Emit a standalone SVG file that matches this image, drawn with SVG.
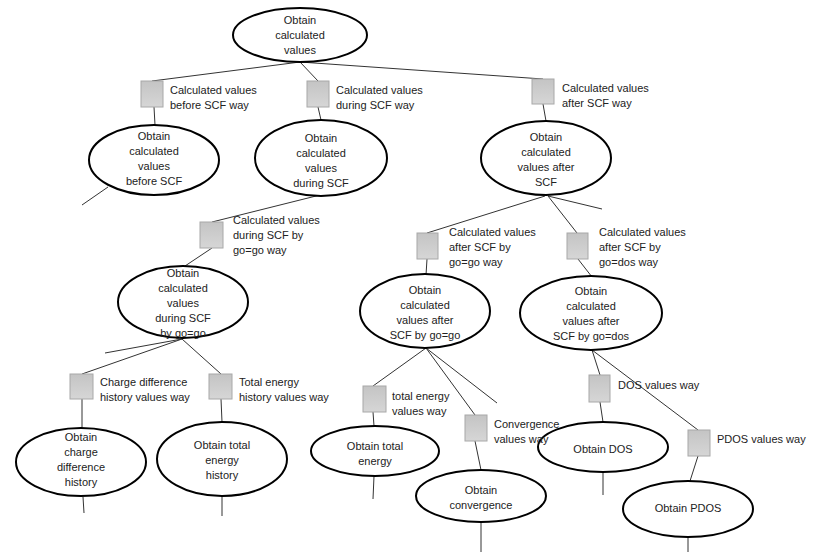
<svg xmlns="http://www.w3.org/2000/svg" width="817" height="557" viewBox="0 0 817 557">
<defs>
<linearGradient id="g" x1="0" y1="0" x2="0" y2="1"><stop offset="0" stop-color="#c4c4c4"/><stop offset="1" stop-color="#d6d6d6"/></linearGradient>
<style>
.n{fill:#fff;stroke:#000;stroke-width:2}
.s{fill:url(#g);stroke:#a8a8a8;stroke-width:1}
.c line{stroke:#333;stroke-width:1}
text{font-family:"Liberation Sans",Arial,sans-serif;font-size:11px;fill:#222}
.m{text-anchor:middle}
</style>
</defs>
<rect width="817" height="557" fill="#fff"/>
<g class="c" id="connectors">
<line x1="300" y1="62" x2="152" y2="81"/>
<line x1="300" y1="62" x2="318" y2="81"/>
<line x1="300" y1="62" x2="543" y2="79"/>
<line x1="154" y1="107" x2="155" y2="125"/>
<line x1="318" y1="107" x2="321" y2="120"/>
<line x1="543" y1="104" x2="546" y2="121"/>
<line x1="108" y1="187" x2="82" y2="205"/>
<line x1="320" y1="195" x2="212" y2="222"/>
<line x1="212" y1="248" x2="185" y2="266"/>
<line x1="182" y1="339" x2="105" y2="353"/>
<line x1="182" y1="339" x2="82" y2="374"/>
<line x1="182" y1="339" x2="221" y2="374"/>
<line x1="82" y1="399" x2="82" y2="428"/>
<line x1="221" y1="399" x2="222" y2="422"/>
<line x1="83" y1="497" x2="84" y2="513"/>
<line x1="222" y1="497" x2="222" y2="516"/>
<line x1="545" y1="196" x2="427" y2="233"/>
<line x1="548" y1="196" x2="577" y2="233"/>
<line x1="548" y1="196" x2="602" y2="209"/>
<line x1="427" y1="259" x2="426" y2="275"/>
<line x1="578" y1="259" x2="592" y2="277"/>
<line x1="426" y1="348" x2="373" y2="386"/>
<line x1="426" y1="348" x2="475" y2="415"/>
<line x1="426" y1="348" x2="497" y2="403"/>
<line x1="373" y1="412" x2="374" y2="426"/>
<line x1="374" y1="476" x2="373" y2="499"/>
<line x1="475" y1="441" x2="481" y2="470"/>
<line x1="481" y1="522" x2="481" y2="552"/>
<line x1="592" y1="350" x2="600" y2="375"/>
<line x1="592" y1="350" x2="698" y2="430"/>
<line x1="600" y1="402" x2="603" y2="422"/>
<line x1="603" y1="472" x2="603" y2="495"/>
<line x1="698" y1="456" x2="690" y2="481"/>
<line x1="688" y1="537" x2="688" y2="552"/>
</g>
<g id="root"><ellipse class="n" cx="300" cy="35" rx="67" ry="27"/><text class="m" x="300" y="24">Obtain</text><text class="m" x="300" y="39">calculated</text><text class="m" x="300" y="54">values</text></g>
<g id="w-before"><rect class="s" x="141" y="81" width="22" height="26"/><text x="170" y="94">Calculated values</text><text x="170" y="109">before SCF way</text></g>
<g id="w-during"><rect class="s" x="307" y="81" width="22" height="26"/><text x="336" y="94">Calculated values</text><text x="336" y="109">during SCF way</text></g>
<g id="w-after"><rect class="s" x="532" y="79" width="22" height="25"/><text x="562" y="92">Calculated values</text><text x="562" y="107">after SCF way</text></g>
<g id="before"><ellipse class="n" cx="154" cy="160" rx="65" ry="35"/><text class="m" x="154" y="140">Obtain</text><text class="m" x="154" y="155">calculated</text><text class="m" x="154" y="170">values</text><text class="m" x="154" y="185">before SCF</text></g>
<g id="during"><ellipse class="n" cx="321" cy="158" rx="66" ry="38"/><text class="m" x="321" y="142">Obtain</text><text class="m" x="321" y="157">calculated</text><text class="m" x="321" y="172">values</text><text class="m" x="321" y="187">during SCF</text></g>
<g id="after"><ellipse class="n" cx="546" cy="158" rx="65" ry="37"/><text class="m" x="546" y="141">Obtain</text><text class="m" x="546" y="156">calculated</text><text class="m" x="546" y="171">values after</text><text class="m" x="546" y="186">SCF</text></g>
<g id="w-during-gogo"><rect class="s" x="200" y="222" width="23" height="26"/><text x="233" y="224">Calculated values</text><text x="233" y="239">during SCF by</text><text x="233" y="254">go=go way</text></g>
<g id="during-gogo"><ellipse class="n" cx="183" cy="302" rx="65" ry="36"/><text class="m" x="183" y="277">Obtain</text><text class="m" x="183" y="292">calculated</text><text class="m" x="183" y="307">values</text><text class="m" x="183" y="322">during SCF</text><text class="m" x="183" y="337">by go=go</text></g>
<g id="w-charge"><rect class="s" x="70" y="374" width="23" height="25"/><text x="100" y="386">Charge difference</text><text x="100" y="401">history values way</text></g>
<g id="w-etot-hist"><rect class="s" x="209" y="374" width="23" height="25"/><text x="239" y="386">Total energy</text><text x="239" y="401">history values way</text></g>
<g id="charge"><ellipse class="n" cx="81" cy="462" rx="65" ry="34"/><text class="m" x="81" y="441">Obtain</text><text class="m" x="81" y="456">charge</text><text class="m" x="81" y="471">difference</text><text class="m" x="81" y="486">history</text></g>
<g id="etot-hist"><ellipse class="n" cx="222" cy="459" rx="65" ry="37"/><text class="m" x="222" y="449">Obtain total</text><text class="m" x="222" y="464">energy</text><text class="m" x="222" y="479">history</text></g>
<g id="w-after-gogo"><rect class="s" x="417" y="233" width="21" height="26"/><text x="449" y="236">Calculated values</text><text x="449" y="251">after SCF by</text><text x="449" y="266">go=go way</text></g>
<g id="w-after-godos"><rect class="s" x="567" y="233" width="21" height="26"/><text x="599" y="236">Calculated values</text><text x="599" y="251">after SCF by</text><text x="599" y="266">go=dos way</text></g>
<g id="after-gogo"><ellipse class="n" cx="425" cy="311" rx="65" ry="37"/><text class="m" x="425" y="294">Obtain</text><text class="m" x="425" y="309">calculated</text><text class="m" x="425" y="324">values after</text><text class="m" x="425" y="339">SCF by go=go</text></g>
<g id="after-godos"><ellipse class="n" cx="591" cy="313" rx="71" ry="37"/><text class="m" x="591" y="295">Obtain</text><text class="m" x="591" y="310">calculated</text><text class="m" x="591" y="325">values after</text><text class="m" x="591" y="340">SCF by go=dos</text></g>
<g id="dos"><ellipse class="n" cx="603" cy="447" rx="65" ry="25"/><text class="m" x="603" y="453">Obtain DOS</text></g>
<g id="pdos"><ellipse class="n" cx="688" cy="509" rx="65" ry="28"/><text class="m" x="688" y="512">Obtain PDOS</text></g>
<g id="etot"><ellipse class="n" cx="375" cy="451" rx="64" ry="25"/><text class="m" x="375" y="450">Obtain total</text><text class="m" x="375" y="465">energy</text></g>
<g id="conv"><ellipse class="n" cx="481" cy="496" rx="65" ry="26"/><text class="m" x="481" y="494">Obtain</text><text class="m" x="481" y="509">convergence</text></g>
<g id="w-etot"><rect class="s" x="363" y="386" width="23" height="26"/><text x="392" y="400">total energy</text><text x="392" y="415">values way</text></g>
<g id="w-conv"><rect class="s" x="465" y="415" width="22" height="26"/><text x="494" y="428">Convergence</text><text x="494" y="443">values way</text></g>
<g id="w-dos"><rect class="s" x="589" y="375" width="21" height="27"/><text x="618" y="389">DOS values way</text></g>
<g id="w-pdos"><rect class="s" x="688" y="430" width="22" height="26"/><text x="717" y="443">PDOS values way</text></g>
</svg>
